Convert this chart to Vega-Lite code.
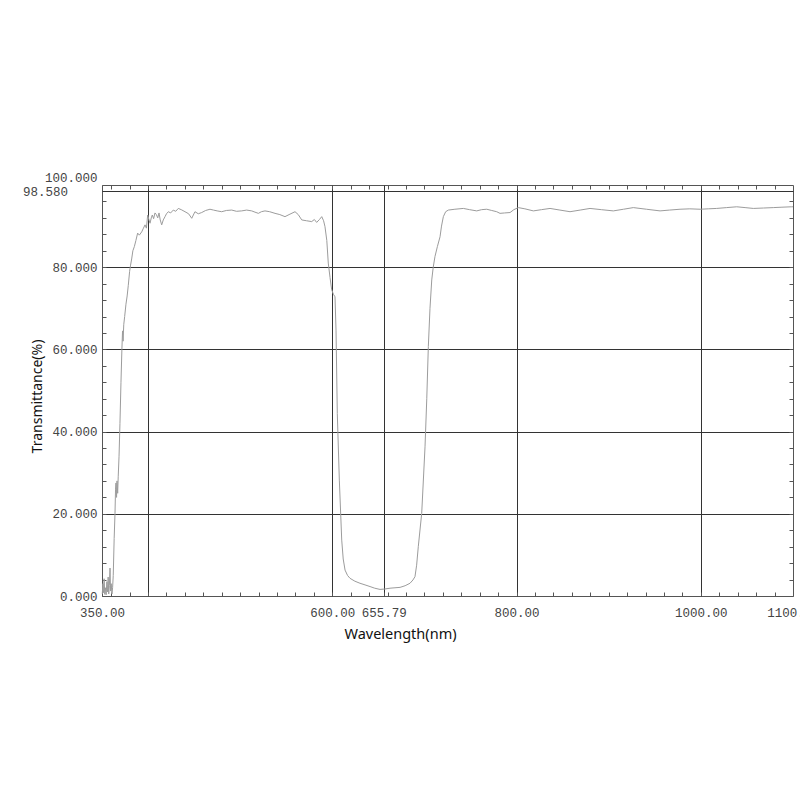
{
  "$schema": "https://vega.github.io/schema/vega-lite/v6.json",
  "width": 691,
  "height": 411,
  "autosize": {"type": "none"},
  "padding": {"left": 102, "top": 185, "right": 7, "bottom": 204},
  "background": "white",
  "config": {
    "view": {"stroke": "#555", "strokeWidth": 1},
    "axis": {"domain": false}
  },
  "datasets": {
    "marker": [{"nm": 350, "T": 98.58, "label": "98.580"}]
  },
  "data": {
    "values": [
      {"nm": 350.3, "T": 0.5}, {"nm": 351.0, "T": 3.0}, {"nm": 351.6, "T": 0.8}, {"nm": 352.3, "T": 4.2},
      {"nm": 353.0, "T": 0.4}, {"nm": 353.8, "T": 2.0}, {"nm": 354.5, "T": 0.3}, {"nm": 355.3, "T": 3.5},
      {"nm": 356.0, "T": 1.0}, {"nm": 356.7, "T": 4.6}, {"nm": 357.3, "T": 0.5}, {"nm": 358.0, "T": 2.5},
      {"nm": 358.7, "T": 6.8}, {"nm": 359.3, "T": 1.2}, {"nm": 360.0, "T": 3.0}, {"nm": 360.8, "T": 0.5},
      {"nm": 361.5, "T": 2.0}, {"nm": 362.2, "T": 5.0}, {"nm": 363.2, "T": 14}, {"nm": 364.1, "T": 20},
      {"nm": 364.7, "T": 26}, {"nm": 365.2, "T": 27.5}, {"nm": 365.8, "T": 24}, {"nm": 366.3, "T": 28},
      {"nm": 367.0, "T": 25}, {"nm": 367.6, "T": 29}, {"nm": 368.5, "T": 34}, {"nm": 369.5, "T": 42},
      {"nm": 370.6, "T": 52}, {"nm": 371.6, "T": 60}, {"nm": 372.3, "T": 64.5}, {"nm": 372.9, "T": 62},
      {"nm": 373.6, "T": 66}, {"nm": 374.6, "T": 68}, {"nm": 376.0, "T": 71}, {"nm": 377.3, "T": 73},
      {"nm": 378.5, "T": 75.5}, {"nm": 380.0, "T": 79}, {"nm": 381.0, "T": 80.5}, {"nm": 382.2, "T": 82},
      {"nm": 383.5, "T": 84}, {"nm": 385.1, "T": 85}, {"nm": 386.8, "T": 86.5}, {"nm": 388.7, "T": 88.3},
      {"nm": 390.5, "T": 87.8}, {"nm": 393.1, "T": 88.6}, {"nm": 395.0, "T": 89.5}, {"nm": 396.7, "T": 90.3},
      {"nm": 398.2, "T": 89.5}, {"nm": 399.6, "T": 92.7}, {"nm": 401.0, "T": 91.5}, {"nm": 402.1, "T": 90.7},
      {"nm": 403.5, "T": 92.0}, {"nm": 404.6, "T": 92.7}, {"nm": 406.0, "T": 91.8}, {"nm": 407.5, "T": 93.2},
      {"nm": 409.0, "T": 92.8}, {"nm": 410.5, "T": 92.0}, {"nm": 411.9, "T": 93.2}, {"nm": 413.2, "T": 91.5},
      {"nm": 414.8, "T": 90.3}, {"nm": 416.5, "T": 91.5}, {"nm": 418.4, "T": 92.3}, {"nm": 420.0, "T": 93.0},
      {"nm": 422.0, "T": 93.5}, {"nm": 424.5, "T": 93.2}, {"nm": 427.4, "T": 93.9}, {"nm": 430.0, "T": 93.6},
      {"nm": 432.8, "T": 94.3}, {"nm": 436.0, "T": 94.0}, {"nm": 440.1, "T": 93.5}, {"nm": 444.0, "T": 93.0},
      {"nm": 447.4, "T": 91.9}, {"nm": 450.9, "T": 93.5}, {"nm": 454.5, "T": 93.0}, {"nm": 458.2, "T": 93.3},
      {"nm": 462.5, "T": 93.8}, {"nm": 467.2, "T": 94.1}, {"nm": 471.0, "T": 93.9}, {"nm": 475.0, "T": 93.7},
      {"nm": 479.9, "T": 93.5}, {"nm": 485.0, "T": 93.8}, {"nm": 490.8, "T": 93.9}, {"nm": 496.0, "T": 93.6},
      {"nm": 501.6, "T": 93.7}, {"nm": 507.0, "T": 93.9}, {"nm": 512.5, "T": 93.7}, {"nm": 516.0, "T": 93.4},
      {"nm": 519.7, "T": 93.1}, {"nm": 523.0, "T": 93.5}, {"nm": 526.9, "T": 93.7}, {"nm": 532.0, "T": 93.5},
      {"nm": 537.8, "T": 93.1}, {"nm": 543.0, "T": 92.8}, {"nm": 548.6, "T": 92.3}, {"nm": 554.0, "T": 92.9},
      {"nm": 559.5, "T": 93.5}, {"nm": 563.0, "T": 92.8}, {"nm": 566.8, "T": 91.5}, {"nm": 572.0, "T": 91.3},
      {"nm": 577.6, "T": 91.1}, {"nm": 580.5, "T": 91.6}, {"nm": 583.0, "T": 90.9}, {"nm": 586.0, "T": 91.6},
      {"nm": 588.5, "T": 92.3}, {"nm": 590.5, "T": 91.3}, {"nm": 592.0, "T": 89.9}, {"nm": 594.0, "T": 86.5},
      {"nm": 595.6, "T": 81.0}, {"nm": 597.5, "T": 77.5}, {"nm": 599.3, "T": 74.5}, {"nm": 601.2, "T": 73.4},
      {"nm": 602.9, "T": 72.8}, {"nm": 604.0, "T": 64.7}, {"nm": 605.4, "T": 44.4}, {"nm": 607.6, "T": 28.2},
      {"nm": 610.2, "T": 13.6}, {"nm": 611.8, "T": 9.0}, {"nm": 613.8, "T": 6.3}, {"nm": 616.5, "T": 5.0},
      {"nm": 619.2, "T": 4.3}, {"nm": 624.5, "T": 3.6}, {"nm": 630.0, "T": 3.1}, {"nm": 635.5, "T": 2.7},
      {"nm": 640.9, "T": 2.3}, {"nm": 646.0, "T": 1.9}, {"nm": 651.8, "T": 1.6}, {"nm": 657.0, "T": 1.7},
      {"nm": 662.6, "T": 1.9}, {"nm": 668.0, "T": 2.0}, {"nm": 673.5, "T": 2.1}, {"nm": 679.0, "T": 2.5},
      {"nm": 684.3, "T": 3.1}, {"nm": 687.5, "T": 3.9}, {"nm": 689.7, "T": 4.7}, {"nm": 691.5, "T": 7.5},
      {"nm": 693.3, "T": 12.0}, {"nm": 697.0, "T": 20.1}, {"nm": 700.6, "T": 36.3}, {"nm": 702.5, "T": 48},
      {"nm": 704.2, "T": 60.7}, {"nm": 706.0, "T": 70}, {"nm": 707.9, "T": 76.9}, {"nm": 709.5, "T": 80},
      {"nm": 711.4, "T": 82.6}, {"nm": 714.0, "T": 85}, {"nm": 716.9, "T": 87.4}, {"nm": 718.5, "T": 90},
      {"nm": 720.5, "T": 92.3}, {"nm": 723.0, "T": 93.5}, {"nm": 725.9, "T": 93.9}, {"nm": 733.0, "T": 94.1},
      {"nm": 742.2, "T": 94.3}, {"nm": 749.0, "T": 94.0}, {"nm": 756.7, "T": 93.7}, {"nm": 762.0, "T": 94.0},
      {"nm": 767.6, "T": 94.1}, {"nm": 773.0, "T": 93.8}, {"nm": 778.4, "T": 93.5}, {"nm": 782.0, "T": 93.1},
      {"nm": 787.0, "T": 93.2}, {"nm": 792.9, "T": 93.3}, {"nm": 797.0, "T": 94.0}, {"nm": 801.9, "T": 94.5},
      {"nm": 809.0, "T": 94.2}, {"nm": 818.2, "T": 93.7}, {"nm": 827.0, "T": 94.0}, {"nm": 836.3, "T": 94.3},
      {"nm": 847.0, "T": 93.9}, {"nm": 858.0, "T": 93.5}, {"nm": 869.0, "T": 93.9}, {"nm": 879.7, "T": 94.3},
      {"nm": 892.0, "T": 94.0}, {"nm": 905.0, "T": 93.7}, {"nm": 916.0, "T": 94.1}, {"nm": 926.7, "T": 94.5},
      {"nm": 941.0, "T": 94.1}, {"nm": 955.7, "T": 93.7}, {"nm": 966.0, "T": 93.9}, {"nm": 977.4, "T": 94.1},
      {"nm": 988.0, "T": 94.2}, {"nm": 999.1, "T": 94.1}, {"nm": 1008.0, "T": 94.2}, {"nm": 1017.2, "T": 94.3},
      {"nm": 1028.0, "T": 94.5}, {"nm": 1038.9, "T": 94.7}, {"nm": 1048.0, "T": 94.5}, {"nm": 1056.9, "T": 94.3},
      {"nm": 1068.0, "T": 94.4}, {"nm": 1078.6, "T": 94.5}, {"nm": 1088.0, "T": 94.6}, {"nm": 1098.6, "T": 94.7},
      {"nm": 1100.0, "T": 94.7}
    ]
  },
  "layer": [
    {
      "mark": {"type": "line", "color": "#9c9c9c", "strokeWidth": 1},
      "encoding": {
        "x": {
          "field": "nm", "type": "quantitative",
          "scale": {"domain": [350, 1100], "nice": false, "zero": false},
          "axis": {
            "orient": "bottom",
            "values": [350, 360, 380, 400, 420, 440, 460, 480, 500, 520, 540, 560, 580, 600, 620, 640, 655.79, 660, 680, 700, 720, 740, 760, 780, 800, 820, 840, 860, 880, 900, 920, 940, 960, 980, 1000, 1020, 1040, 1060, 1080, 1100],
            "format": ".2f",
            "labelExpr": "indexof([350, 600, 655.79, 800, 1000, 1100], datum.value) >= 0 ? datum.label : ''",
            "labelFont": "Liberation Mono", "labelFontSize": 12.5, "labelColor": "#444",
            "labelPadding": 14, "labelOverlap": false, "labelFlush": false, "labelBound": false,
            "labelBaseline": "top",
            "ticks": true, "tickSize": -4, "tickColor": "#555", "tickWidth": 1,
            "grid": true, "gridColor": "#333", "gridWidth": 1,
            "gridOpacity": {"condition": {"test": "indexof([400, 600, 655.79, 800, 1000], datum.value) >= 0", "value": 1}, "value": 0},
            "title": "Wavelength(nm)",
            "titleFont": "Noto Sans", "titleFontSize": 14.5, "titleFontWeight": "normal", "titleColor": "#111",
            "titleX": 298, "titleY": 31, "titleBaseline": "top", "titleAlign": "center"
          }
        },
        "y": {
          "field": "T", "type": "quantitative",
          "scale": {"domain": [0, 100], "nice": false, "zero": false},
          "axis": {
            "orient": "left",
            "values": [0, 4, 8, 12, 16, 20, 24, 28, 32, 36, 40, 44, 48, 52, 56, 60, 64, 68, 72, 76, 80, 84, 88, 92, 96, 98.58, 100],
            "format": ".3f",
            "labelExpr": "datum.value % 20 == 0 ? datum.label : ''",
            "labelFont": "Liberation Mono", "labelFontSize": 12.5, "labelColor": "#444",
            "labelPadding": 9,
            "labelOffset": {"condition": {"test": "datum.value == 100", "value": -8}, "value": 0},
            "labelOverlap": false, "labelFlush": false, "labelBound": false, "labelBaseline": "middle",
            "ticks": true, "tickSize": -4, "tickColor": "#555", "tickWidth": 1,
            "tickOpacity": {"condition": {"test": "datum.value == 98.58", "value": 0}, "value": 1},
            "grid": true, "gridColor": "#333", "gridWidth": 1,
            "gridOpacity": {"condition": {"test": "indexof([20, 40, 60, 80, 98.58], datum.value) >= 0", "value": 1}, "value": 0},
            "title": "Transmittance(%)",
            "titleFont": "Noto Sans", "titleFontSize": 14, "titleFontWeight": "normal", "titleColor": "#111",
            "titleX": -58, "titleY": 211, "titleAlign": "center"
          }
        }
      }
    },
    {
      "mark": {"type": "line", "opacity": 0},
      "encoding": {
        "x": {
          "field": "nm", "type": "quantitative",
          "axis": {
            "orient": "top",
            "values": [360, 380, 400, 420, 440, 460, 480, 500, 520, 540, 560, 580, 600, 620, 640, 660, 680, 700, 720, 740, 760, 780, 800, 820, 840, 860, 880, 900, 920, 940, 960, 980, 1000, 1020, 1040, 1060, 1080],
            "labels": false, "grid": false, "tickSize": -4, "tickColor": "#555", "title": null
          }
        },
        "y": {
          "field": "T", "type": "quantitative",
          "axis": {
            "orient": "right",
            "values": [4, 8, 12, 16, 20, 24, 28, 32, 36, 40, 44, 48, 52, 56, 60, 64, 68, 72, 76, 80, 84, 88, 92, 96],
            "labels": false, "grid": false, "tickSize": -4, "tickColor": "#555", "title": null
          }
        }
      }
    },
    {
      "data": {"name": "marker"},
      "mark": {"type": "text", "align": "right", "baseline": "middle", "dx": -34, "dy": 1, "font": "Liberation Mono", "fontSize": 12.5, "color": "#444"},
      "encoding": {
        "x": {"field": "nm", "type": "quantitative", "axis": null},
        "y": {"field": "T", "type": "quantitative", "axis": null},
        "text": {"field": "label"}
      }
    }
  ],
  "resolve": {"axis": {"x": "independent", "y": "independent"}}
}
